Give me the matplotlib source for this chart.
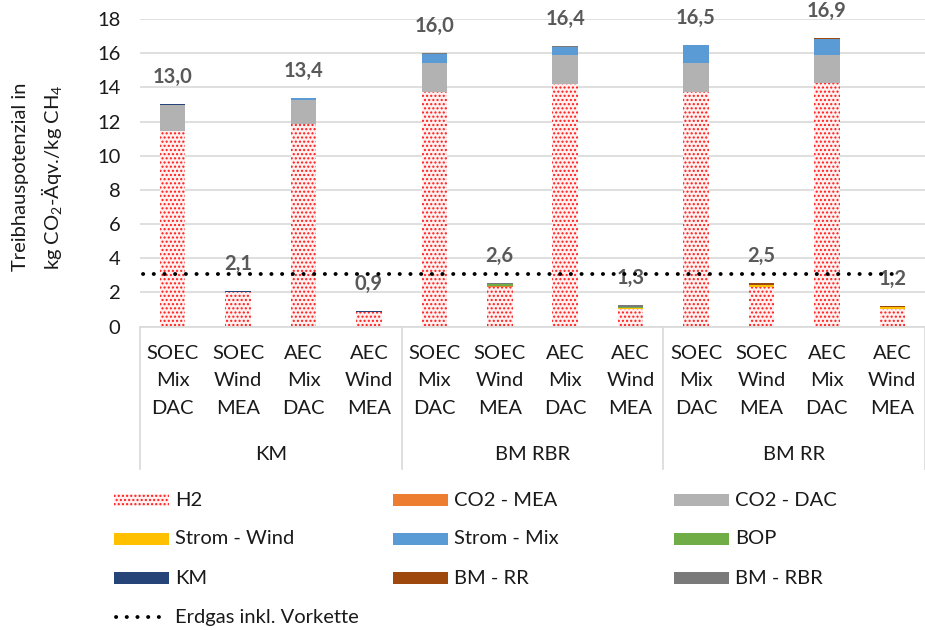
import matplotlib
matplotlib.use("Agg")
import matplotlib.pyplot as plt
from matplotlib.patches import Rectangle
from matplotlib.lines import Line2D
import numpy as np

plt.rcParams["font.family"] = ["Lato", "DejaVu Sans"]
plt.rcParams["mathtext.fontset"] = "custom"
plt.rcParams["mathtext.rm"] = "Lato"
plt.rcParams["hatch.linewidth"] = 1.0

# ---- data ---------------------------------------------------------------
groups = ["KM", "BM RBR", "BM RR"]
configs = ["SOEC\nMix\nDAC", "SOEC\nWind\nMEA", "AEC\nMix\nDAC", "AEC\nWind\nMEA"]
categories = configs * len(groups)

h2 =         [11.45, 2.00, 11.85, 0.85, 13.75, 2.33, 14.22, 1.03, 13.75, 2.30, 14.25, 1.00]
co2_mea =    [0.00, 0.02, 0.00, 0.01, 0.00, 0.02, 0.00, 0.02, 0.00, 0.04, 0.00, 0.03]
co2_dac =    [1.50, 0.00, 1.43, 0.00, 1.65, 0.00, 1.65, 0.00, 1.70, 0.00, 1.65, 0.00]
strom_wind = [0.00, 0.02, 0.00, 0.01, 0.00, 0.03, 0.00, 0.03, 0.00, 0.10, 0.00, 0.10]
strom_mix =  [0.03, 0.00, 0.07, 0.00, 0.53, 0.00, 0.50, 0.00, 1.00, 0.00, 0.95, 0.00]
bop =        [0.00, 0.00, 0.00, 0.00, 0.00, 0.09, 0.00, 0.09, 0.00, 0.00, 0.00, 0.00]
km =         [0.05, 0.06, 0.05, 0.05, 0.00, 0.00, 0.00, 0.00, 0.00, 0.00, 0.00, 0.00]
bm_rr =      [0.00, 0.00, 0.00, 0.00, 0.00, 0.00, 0.00, 0.00, 0.05, 0.08, 0.05, 0.08]
bm_rbr =     [0.00, 0.00, 0.00, 0.00, 0.07, 0.10, 0.05, 0.10, 0.00, 0.00, 0.00, 0.00]
erdgas = 3.1  # natural gas incl. upstream chain

series = [
    ("CO2 - MEA", co2_mea, "#ED7D31"),
    ("CO2 - DAC", co2_dac, "#B2B2B2"),
    ("Strom - Wind", strom_wind, "#FFC000"),
    ("Strom - Mix", strom_mix, "#5B9BD5"),
    ("BOP", bop, "#70AD47"),
    ("KM", km, "#264478"),
    ("BM - RR", bm_rr, "#9E480E"),
    ("BM - RBR", bm_rbr, "#7A7A7A"),
]

H2_FACE = "#FFF0F0"
H2_DOTS = "#FF1A1A"
TXT = "#1A1A1A"
GRID = "#D9D9D9"
FS = 14.5

# ---- figure -------------------------------------------------------------
W, H = 925, 630
fig = plt.figure(figsize=(W / 100, H / 100), dpi=100)
ax_bottom_px, ax_top_px, ax_left_px, ax_right_px = 326.5, 19.0, 140.0, 925.0
ax = fig.add_axes([ax_left_px / W, 1 - ax_bottom_px / H,
                   (ax_right_px - ax_left_px) / W, (ax_bottom_px - ax_top_px) / H])

x = np.arange(len(categories))
bw = 0.39

ax.bar(x, h2, bw, color=H2_FACE, edgecolor=H2_DOTS, hatch="....", linewidth=0, zorder=2)
bottom = np.array(h2, dtype=float)
for name, vals, col in series:
    vals = np.array(vals, dtype=float)
    ax.bar(x, vals, bw, bottom=bottom, color=col, linewidth=0, zorder=2)
    bottom = bottom + vals

totals = bottom
for xi, t in zip(x, totals):
    ax.annotate(f"{t:.1f}".replace(".", ","), (xi, t), xytext=(0, 27),
                textcoords="offset pixels", ha="center", va="center",
                fontsize=FS, fontweight="bold", color="#595959")

# natural gas reference line
ax.hlines(erdgas, x[0] - 0.45, x[-1], color="black", lw=2.8,
          linestyle=(0, (0.05, 2.7)), capstyle="round", zorder=3)

ax.set_xlim(-0.5, len(x) - 0.5)
ax.set_ylim(0, 18)
ax.set_yticks(np.arange(0, 19, 2))
ax.yaxis.grid(True, color=GRID, lw=1.2)
ax.set_axisbelow(True)
for s in ["left", "right", "top"]:
    ax.spines[s].set_visible(False)
ax.spines["bottom"].set_color(GRID)
ax.spines["bottom"].set_linewidth(1.2)
ax.tick_params(axis="y", length=0, pad=14, labelsize=FS, labelcolor=TXT)
ax.set_xticks(x)
ax.set_xticklabels(categories, linespacing=1.78)
ax.tick_params(axis="x", length=0, pad=13, labelsize=FS, labelcolor=TXT)

# group frame and group labels below the category axis
tr = ax.get_xaxis_transform()
frame_depth = -(469 - ax_bottom_px) / (ax_bottom_px - ax_top_px)
for xb in [-0.5, 3.5, 7.5, 11.5]:
    ax.plot([xb, xb], [0, frame_depth], color=GRID, lw=1.2, transform=tr, clip_on=False)
group_y = -(454 - ax_bottom_px) / (ax_bottom_px - ax_top_px)
for gi, g in enumerate(groups):
    ax.text(gi * 4 + 1.5, group_y, g, transform=tr, ha="center", va="center",
            fontsize=FS, color=TXT)

# y-axis title
fig.text(21 / W, 1 - 177 / H, "Treibhauspotenzial in", rotation=90,
         ha="center", va="center", fontsize=FS, color=TXT)
fig.text(52 / W, 1 - 177 / H, r"kg CO$\mathregular{_2}$-Äqv./kg CH$\mathregular{_4}$",
         rotation=90, ha="center", va="center", fontsize=FS, color=TXT)

# legend
legend_entries = [("H2", "hatch", None)] + [(n, "patch", c) for n, _, c in series] + \
                 [("Erdgas inkl. Vorkette", "line", None)]
col_x = [114, 393, 674]
row_y = [500, 539, 578, 617]
pw, ph = 55, 12
for i, (name, kind, col) in enumerate(legend_entries):
    px = col_x[i % 3]
    py = row_y[i // 3]
    fx, fy = px / W, 1 - py / H
    if kind == "hatch":
        fig.add_artist(Rectangle((fx, fy - ph / 2 / H), pw / W, ph / H,
                                 transform=fig.transFigure, facecolor=H2_FACE,
                                 edgecolor=H2_DOTS, hatch="....", linewidth=0))
    elif kind == "patch":
        fig.add_artist(Rectangle((fx, fy - ph / 2 / H), pw / W, ph / H,
                                 transform=fig.transFigure, facecolor=col, linewidth=0))
    else:
        fig.add_artist(Line2D([fx + 2 / W, (px + pw - 2) / W], [fy, fy],
                              transform=fig.transFigure, color="black", lw=2.8,
                              linestyle=(0, (0.05, 2.7)), dash_capstyle="round"))
    fig.text((px + pw + 6) / W, fy, name, ha="left", va="center",
             fontsize=FS, color=TXT)

fig.savefig("out.png", dpi=100)
